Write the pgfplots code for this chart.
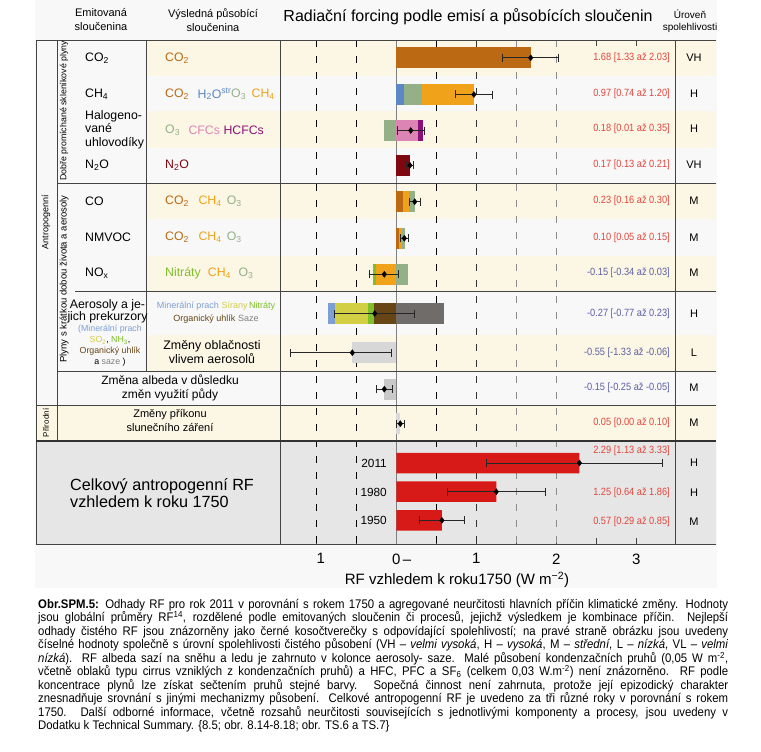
\documentclass[border=0pt]{standalone}
\usepackage{pgfplots}
\pgfplotsset{compat=1.18}
\usepackage{fontspec}
\setmainfont{Liberation Sans}
\newfontfamily\narrow[FakeStretch=0.88]{Liberation Sans}
\newfontfamily\capfont[FakeStretch=0.91]{Liberation Sans}
\definecolor{bg}{HTML}{F8F8F8}
\definecolor{beige}{HTML}{FCF6E4}
\definecolor{totbg}{HTML}{E6E6E6}
\definecolor{frame}{HTML}{444444}
\definecolor{cCOtwo}{RGB}{187,106,19}
\definecolor{cH2O}{HTML}{5D87C4}
\definecolor{cO3}{RGB}{147,176,135}
\definecolor{cCH4}{RGB}{240,162,26}
\definecolor{cCFC}{RGB}{220,133,180}
\definecolor{cHCFC}{HTML}{8C1077}
\definecolor{cN2O}{HTML}{7E0710}
\definecolor{cNit}{HTML}{7FBF2A}
\definecolor{cDust}{HTML}{7D9FD4}
\definecolor{cSulf}{RGB}{210,207,69}
\definecolor{cOC}{HTML}{674515}
\definecolor{cBC}{HTML}{706C6A}
\definecolor{cCloud}{HTML}{D7D7D7}
\definecolor{cAlb}{HTML}{C9C9C9}
\definecolor{cSol}{HTML}{DADADA}
\definecolor{cTot}{HTML}{D71A17}
\definecolor{cPos}{HTML}{E2453C}
\definecolor{cNeg}{HTML}{5A5EA5}
\newcommand{\fs}[2]{\fontsize{#1}{#2}\selectfont}
\newcommand{\sub}[1]{\textsubscript{#1}}
\pgfplotsset{seg/.style={xbar, bar width=21pt, bar shift=0pt, draw=none, fill=#1}}
\begin{document}
\begin{tikzpicture}[x=1pt,y=-1pt]
% backgrounds
\fill[white] (0,0) rectangle (761,752);
\fill[bg] (35,0) rectangle (717,588);
\fill[beige] (146,40) rectangle (716,76);
\fill[beige] (146,111) rectangle (716,148);
\fill[beige] (146,183) rectangle (716,219);
\fill[beige] (146,256) rectangle (716,291);
\fill[beige] (146,335) rectangle (716,371);
\fill[beige] (36,405) rectangle (716,441);
\fill[totbg] (36,441) rectangle (716,544);

\begin{axis}[at={(280pt,-544pt)}, anchor=south west, scale only axis,
  width=395pt, height=504pt,
  xmin=-1.454, xmax=3.484, ymin=-544, ymax=-40,
  axis line style={draw=none}, ytick=\empty,
  xtick={-1,-0.5,0,0.5,1,1.5,2,2.5,3},
  xticklabels={\phantom{−}1,{},{0\rlap{\,–}},{},1,{},2,{},3},
  xticklabel style={font=\fs{15}{15}, yshift=-6pt},
  major tick length=6pt, tick style={frame, line width=0.8pt},
  xtick pos=both, xticklabel pos=lower]
% grid lines
\addplot[black, dash pattern=on 7pt off 9pt, line width=0.8pt] coordinates {(-1,-40) (-1,-544)};
\addplot[black, dash pattern=on 7pt off 9pt, line width=0.8pt] coordinates {(-0.5,-40) (-0.5,-544)};
\addplot[black, dash pattern=on 7pt off 9pt, line width=0.8pt] coordinates {(0.5,-40) (0.5,-544)};
\addplot[black!80, dash pattern=on 7pt off 9pt, line width=0.8pt] coordinates {(1,-40) (1,-544)};
\addplot[black!45, dash pattern=on 7pt off 9pt, line width=0.9pt] coordinates {(1.5,-40) (1.5,-544)};
\addplot[black!45, dash pattern=on 7pt off 9pt, line width=0.9pt] coordinates {(2,-40) (2,-544)};
\addplot[black!50, line width=0.8pt] coordinates {(0,-40) (0,-544)};
% CO2
\addplot[seg=cCOtwo] coordinates {(1.68,-57.8)};
% CH4
\addplot[seg=cCH4] coordinates {(0.97,-94.5)};
\addplot[seg=cO3] coordinates {(0.325,-94.5)};
\addplot[seg=cH2O] coordinates {(0.09,-94.5)};
% Halocarbons
\addplot[seg=cHCFC] coordinates {(0.33,-130.5)};
\addplot[seg=cCFC] coordinates {(0.275,-130.5)};
\addplot[seg=cO3] coordinates {(-0.15,-130.5)};
% N2O
\addplot[seg=cN2O] coordinates {(0.17,-165.3)};
% CO
\addplot[seg=cO3] coordinates {(0.235,-201.7)};
\addplot[seg=cCH4] coordinates {(0.155,-201.7)};
\addplot[seg=cCOtwo] coordinates {(0.085,-201.7)};
% NMVOC
\addplot[seg=cO3] coordinates {(0.105,-238.3)};
\addplot[seg=cCH4] coordinates {(0.07,-238.3)};
\addplot[seg=cCOtwo] coordinates {(0.035,-238.3)};
% NOx
\addplot[seg=cO3] coordinates {(0.14,-274.3)};
\addplot[seg=cNit] coordinates {(-0.29,-274.3)};
\addplot[seg=cCH4] coordinates {(-0.25,-274.3)};
% Aerosols
\addplot[seg=cBC] coordinates {(0.60,-313.5)};
\addplot[seg=cDust] coordinates {(-0.855,-313.5)};
\addplot[seg=cSulf] coordinates {(-0.765,-313.5)};
\addplot[seg=cNit] coordinates {(-0.355,-313.5)};
\addplot[seg=cOC] coordinates {(-0.285,-313.5)};
% Clouds, albedo, solar
\addplot[seg=cCloud] coordinates {(-0.55,-352.7)};
\addplot[seg=cAlb] coordinates {(-0.15,-389.2)};
\addplot[seg=cSol] coordinates {(0.05,-423.7)};
% Totals
\addplot[seg=cTot, bar width=20.5pt] coordinates {(2.29,-463) (1.25,-491.7) (0.57,-520.3)};
% best estimates with uncertainty
\addplot[only marks, mark=diamond*, mark size=3pt, black,
  error bars/.cd, x dir=both, x explicit, error mark=|,
  error bar style={line width=0.7pt, black!85},
  error mark options={black!85, mark size=4pt, line width=0.7pt}]
coordinates {
(1.68,-57.8) += (0.35,0) -= (0.35,0)
(0.97,-94.5) += (0.23,0) -= (0.23,0)
(0.18,-130.5) += (0.17,0) -= (0.17,0)
(0.17,-165.3) += (0.04,0) -= (0.04,0)
(0.23,-201.7) += (0.07,0) -= (0.07,0)
(0.10,-238.3) += (0.05,0) -= (0.05,0)
(-0.15,-274.3) += (0.18,0) -= (0.19,0)
(-0.27,-313.5) += (0.50,0) -= (0.50,0)
(-0.55,-352.7) += (0.49,0) -= (0.78,0)
(-0.15,-389.2) += (0.10,0) -= (0.10,0)
(0.05,-423.7) += (0.05,0) -= (0.05,0)
(2.29,-463) += (1.04,0) -= (1.16,0)
(1.25,-491.7) += (0.61,0) -= (0.61,0)
(0.57,-520.3) += (0.28,0) -= (0.28,0)
};
\end{axis}

% frame lines
\begin{scope}[frame, line width=0.9pt]
\draw (36,40) -- (716,40);
\draw (36,40) -- (36,544);
\draw (57,40) -- (57,441);
\draw (146,40) -- (146,371);
\draw (280,40) -- (280,544);
\draw (675,40) -- (675,544);
\draw (57,183) -- (716,183);
\draw (75,291) -- (716,291);
\draw (57,371) -- (716,371);
\draw (36,405) -- (716,405);
\draw[line width=1.3pt, black!80] (36,441) -- (716,441);
\draw (36,544) -- (716,544);
\end{scope}

% header
\node[font=\fs{11}{14}, align=center] at (101,20) {Emitovaná\\sloučenina};
\node[font=\fs{11}{14}, align=center] at (213,20) {Výsledná působící\\sloučenina};
\node[font=\fs{16}{17}] at (468,17) {Radiační forcing podle emisí a působících sloučenin};
\node[font=\fs{10}{12.5}, align=center] at (690,21) {Úroveň\\spolehlivosti};

% rotated labels
\node[rotate=90, font=\fs{8.8}{9}] at (64,111) {Dobře promíchané skleníkové plyny};
\node[rotate=90, font=\fs{9.5}{10}] at (64,279) {Plyny s krátkou dobou života a aerosoly};
\node[rotate=90, font=\fs{9}{10}] at (46,222) {Antropogenní};
\node[rotate=90, font=\fs{8}{9}] at (46,423) {Přírodní};

% emitted compounds
\begin{scope}[every node/.style={anchor=west, font=\fs{12.3}{13.5}, inner sep=0pt}]
\node at (85,58) {CO\sub{2}};
\node at (85,94) {CH\sub{4}};
\node[align=left] at (85,129.5) {Halogeno-\\vané\\uhlovodíky};
\node at (85,165) {N\sub{2}O};
\node at (85,201) {CO};
\node at (85,237) {NMVOC};
\node at (85,273) {NO\sub{x}};
\end{scope}
\begin{scope}[every node/.style={inner sep=0pt}]
\node[font=\fs{12.3}{13}] at (107.5,305) {Aerosoly a je-};
\node[font=\fs{12.3}{13}] at (107.5,317) {jich prekurzory};
\node[font=\fs{8.8}{9}] at (110,329.5) {{\color{cDust}(Minerální prach}};
\node[font=\fs{8.8}{9}] at (110,340.5) {{\color{cSulf}SO\sub{2}}, {\color{cNit}NH\sub{3}},};
\node[font=\fs{8.8}{9}] at (110,351.5) {{\color{cOC}Organický uhlík}};
\node[font=\fs{8.8}{9}] at (110,362) {a {\color{gray}saze} )};
\end{scope}

% resulting compounds
\begin{scope}[every node/.style={anchor=west, font=\fs{12.3}{13.5}, inner sep=0pt}]
\node[cCOtwo] at (165,58) {CO\sub{2}};
\node[cCOtwo] at (165,94) {CO\sub{2}};
\node[cH2O] at (197.5,94) {H\sub{2}O\textsuperscript{str}};
\node[cO3] at (231,94) {O\sub{3}};
\node[cCH4] at (251.5,94) {CH\sub{4}};
\node[cO3] at (165,130) {O\sub{3}};
\node[cCFC] at (188.3,130) {CFCs};
\node[cHCFC] at (223.3,130) {HCFCs};
\node[cN2O] at (165,165) {N\sub{2}O};
\node[cCOtwo] at (165,201) {CO\sub{2}};
\node[cCH4] at (198.3,201) {CH\sub{4}};
\node[cO3] at (226.7,201) {O\sub{3}};
\node[cCOtwo] at (165,237.5) {CO\sub{2}};
\node[cCH4] at (198.3,237.5) {CH\sub{4}};
\node[cO3] at (226.7,237.5) {O\sub{3}};
\node[cNit] at (165,273) {Nitráty};
\node[cCH4] at (207.7,273) {CH\sub{4}};
\node[cO3] at (238.3,273) {O\sub{3}};
\end{scope}
\node[font=\fs{9}{13}, align=center, inner sep=0pt] at (216,312.5) {{\color{cDust}Minerální prach} {\color{cSulf}Sírany}\,{\color{cNit}Nitráty}\\{\color{cOC}Organický uhlík} {\color{gray}Saze}};
\node[font=\fs{12.4}{14}, align=center, inner sep=0pt] at (212,352) {Změny oblačnosti\\vlivem aerosolů};
\node[font=\fs{12}{14}, align=center, inner sep=0pt] at (170,388) {Změna albeda v důsledku\\změn využití půdy};
\node[font=\fs{11}{14}, align=center, inner sep=0pt] at (170,421) {Změny příkonu\\slunečního záření};
\node[font=\fs{16.2}{17.5}, align=left, anchor=west, inner sep=0pt] at (70,493) {Celkový antropogenní RF\\vzhledem k roku 1750};
\begin{scope}[every node/.style={anchor=east, font=\fs{11.8}{13}, inner sep=0pt}]
\node at (387,463) {2011};
\node at (387,492) {1980};
\node at (387,520.5) {1950};
\end{scope}

% values
\begin{scope}[every node/.style={anchor=east, font=\narrow\fs{10.5}{11}, inner sep=0pt}]
\node[cPos] at (670,58) {1.68 [1.33 až 2.03]};
\node[cPos] at (670,94) {0.97 [0.74 až 1.20]};
\node[cPos] at (670,129) {0.18 [0.01 až 0.35]};
\node[cPos] at (670,165) {0.17 [0.13 až 0.21]};
\node[cPos] at (670,201) {0.23 [0.16 až 0.30]};
\node[cPos] at (670,238) {0.10 [0.05 až 0.15]};
\node[cNeg] at (670,273) {-0.15 [-0.34 až 0.03]};
\node[cNeg] at (670,314) {-0.27 [-0.77 až 0.23]};
\node[cNeg] at (670,352.5) {-0.55 [-1.33 až -0.06]};
\node[cNeg] at (670,388) {-0.15 [-0.25 až -0.05]};
\node[cPos] at (670,423) {0.05 [0.00 až 0.10]};
\node[cPos] at (670,450.5) {2.29 [1.13 až 3.33]};
\node[cPos] at (670,493) {1.25 [0.64 až 1.86]};
\node[cPos] at (670,521.5) {0.57 [0.29 až 0.85]};
\end{scope}
\begin{scope}[every node/.style={font=\fs{11}{12}, inner sep=0pt}]
\node at (694,58) {VH};
\node at (694,94) {H};
\node at (694,129) {H};
\node at (694,165) {VH};
\node at (694,201) {M};
\node at (694,238) {M};
\node at (694,273) {M};
\node at (694,314) {H};
\node at (694,352.5) {L};
\node at (694,388) {M};
\node at (694,423) {M};
\node at (694,463) {H};
\node at (694,493) {H};
\node at (694,521.5) {M};
\end{scope}

% x label
\node[font=\fs{15}{16}] at (457,580) {RF vzhledem k roku1750 (W m\textsuperscript{−2})};

% caption
\node[anchor=north west, inner sep=0pt, text width=690pt, align=justify, font=\capfont\fs{12.5}{13.5}] at (38,599) {{\bfseries Obr.SPM.5:} Odhady RF pro rok 2011 v porovnání s rokem 1750 a agregované neurčitosti hlavních příčin klimatické změny. Hodnoty\linebreak
jsou globální průměry RF\textsuperscript{14}, rozdělené podle emitovaných sloučenin či procesů, jejichž výsledkem je kombinace příčin. Nejlepší\linebreak
odhady čistého RF jsou znázorněny jako černé kosočtverečky s odpovídající spolehlivostí; na pravé straně obrázku jsou uvedeny\linebreak
číselné hodnoty společně s úrovní spolehlivosti čistého působení (VH – \textit{velmi vysoká}, H – \textit{vysoká}, M – \textit{střední}, L – \textit{nízká}, VL – \textit{velmi}\linebreak
\textit{nízká}). RF albeda sazí na sněhu a ledu je zahrnuto v kolonce aerosoly- saze. Malé působení kondenzačních pruhů (0,05 W m\textsuperscript{-2},\linebreak
včetně oblaků typu cirrus vzniklých z kondenzačních pruhů) a HFC, PFC a SF\textsubscript{6} (celkem 0,03 W.m\textsuperscript{-2}) není znázorněno. RF podle\linebreak
koncentrace plynů lze získat sečtením pruhů stejné barvy. Sopečná činnost není zahrnuta, protože její epizodický charakter\linebreak
znesnadňuje srovnání s jinými mechanizmy působení. Celkové antropogenní RF je uvedeno za tři různé roky v porovnání s rokem\linebreak
1750. Další odborné informace, včetně rozsahů neurčitosti souvisejících s jednotlivými komponenty a procesy, jsou uvedeny v\linebreak
Dodatku k Technical Summary. \{8.5; obr. 8.14-8.18; obr. TS.6 a TS.7\}};
\end{tikzpicture}
\end{document}
